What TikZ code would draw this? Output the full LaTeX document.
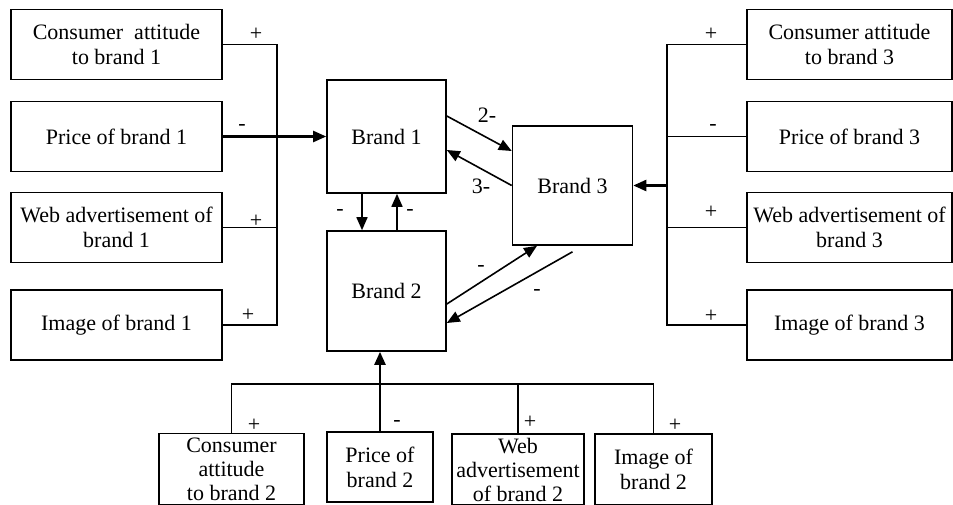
\documentclass[tikz,border=0pt]{standalone}
\usepackage{fontspec}
\setmainfont{Liberation Serif}
\usetikzlibrary{arrows.meta,calc}
\begin{document}
\begin{tikzpicture}[x=1pt,y=-1pt,
  box/.style={draw,line width=1.6pt,align=center,inner sep=0pt,font=\fontsize{22}{25.7}\selectfont},
  brand/.style={box},
  lbl/.style={inner sep=0pt,font=\fontsize{22}{25}\selectfont},
  conn/.style={line width=1.6pt},
  arr/.style={conn,-{Triangle[length=13pt,width=11pt]}},
  bus/.style={line width=2.4pt}]
\useasboundingbox (0,0) rectangle (953,504);
% left factor boxes
\node[box,minimum width=211,minimum height=70] (l1) at (116.5,44.5) {Consumer~ attitude\\to brand 1};
\node[box,minimum width=211,minimum height=70] (l2) at (116.5,136.5) {Price of brand 1};
\node[box,minimum width=211,minimum height=70] (l3) at (116.5,227.5) {Web advertisement of\\brand 1};
\node[box,minimum width=211,minimum height=70] (l4) at (116.5,325) {Image of brand 1};
% right factor boxes
\node[box,minimum width=205,minimum height=70] (r1) at (849.5,44.5) {Consumer attitude\\to brand 3};
\node[box,minimum width=205,minimum height=70] (r2) at (849.5,136.5) {Price of brand 3};
\node[box,minimum width=205,minimum height=70] (r3) at (849.5,227.5) {Web advertisement of\\brand 3};
\node[box,minimum width=205,minimum height=70] (r4) at (849.5,325) {Image of brand 3};
% brands
\node[brand,minimum width=119,minimum height=113] (b1) at (386.5,136.5) {Brand 1};
\node[brand,minimum width=119,minimum height=120] (b2) at (386.5,291) {Brand 2};
\node[brand,minimum width=120,minimum height=119] (b3) at (572.5,185.5) {Brand 3};
% bottom factor boxes
\node[box,font=\fontsize{22}{24}\selectfont,minimum width=145,minimum height=71.5] (d1) at (231.5,469.25) {Consumer\\attitude\\to brand 2};
\node[box,font=\fontsize{22}{25}\selectfont,minimum width=106,minimum height=70] (d2) at (380,467) {Price of\\brand 2};
\node[box,font=\fontsize{22}{24}\selectfont,minimum width=132,minimum height=71] (d3) at (518,469.5) {Web\\advertisement\\of brand 2};
\node[box,font=\fontsize{22}{25}\selectfont,minimum width=117,minimum height=71] (d4) at (653.5,469.5) {Image of\\brand 2};
% left bus
\coordinate (lt) at (277,44.5);
\coordinate (lb) at (277,325);
\draw[conn] (l1.east) -- (lt) -- (lb) -- (l4.east);
\draw[conn] (l3.east) -- (l3.east -| lt);
\draw[bus,line width=2.2pt] (l2.east -| lt) -- (l3.east -| lt);
\draw[arr,line width=2.2pt] (l2.east) -- (b1.west);
% right bus
\coordinate (rt) at (667,44.5);
\coordinate (rb) at (667,325);
\draw[conn] (r1.west) -- (rt) -- (rb) -- (r4.west);
\draw[conn] (r2.west) -- (r2.west -| rt);
\draw[conn] (r3.west) -- (r3.west -| rt);
\draw[bus,line width=2.2pt] (r2.west -| rt) -- (r3.west -| rt);
\draw[arr,line width=2.4pt] (b3.east -| rt) -- (b3.east);
% bottom bus
\coordinate (bl) at (231.5,384);
\draw[conn] (d1.north) -- (d1.north |- bl) -- (d4.north |- bl) -- (d4.north);
\draw[conn] (d2.north) -- (d2.north |- bl);
\draw[conn] (d3.north) -- (d3.north |- bl);
\draw[bus,line width=2.2pt] (d2.north |- bl) -- (d3.north |- bl);
\draw[arr,line width=2.4pt] (d2.north |- bl) -- (d2.north |- b2.south);
% brand interactions
\draw[arr] ([xshift=-24.5]b1.south) -- ([xshift=-24.5]b2.north);
\draw[arr] ([xshift=10.5]b2.north) -- ([xshift=10.5]b1.south);
\draw[arr] ([yshift=20.5]b1.east) -- ([yshift=34.5]b3.west);
\draw[arr] (b3.west) -- ([yshift=-13.5]b1.east);
\draw[arr] ([yshift=-13]b2.east) -- ([xshift=-35.5]b3.south);
\coordinate (b3out) at ([yshift=-6]b3.south);
\draw[arr] (b3out) -- ([yshift=-32]b2.east);
% labels
\node[lbl] (la1) at (256,34) {+};
\node[lbl] (la2) at (242,127) {-};
\node[lbl] (la3) at (256,221) {+};
\node[lbl] (la4) at (248,315) {+};
\node[lbl] (ra1) at (711,34) {+};
\node[lbl] (ra2) at (713,127) {-};
\node[lbl] (ra3) at (711,212) {+};
\node[lbl] (ra4) at (711,316) {+};
\node[lbl] (m1) at (487,115) {2-};
\node[lbl] (m2) at (481,186) {3-};
\node[lbl] (m3) at (340,212) {-};
\node[lbl] (m4) at (410,212) {-};
\node[lbl] (m5) at (481,268) {-};
\node[lbl] (m6) at (537,292) {-};
\node[lbl] (ba1) at (254,425) {+};
\node[lbl] (ba2) at (397,423) {-};
\node[lbl] (ba3) at (530,422) {+};
\node[lbl] (ba4) at (675,425) {+};
\end{tikzpicture}
\end{document}
